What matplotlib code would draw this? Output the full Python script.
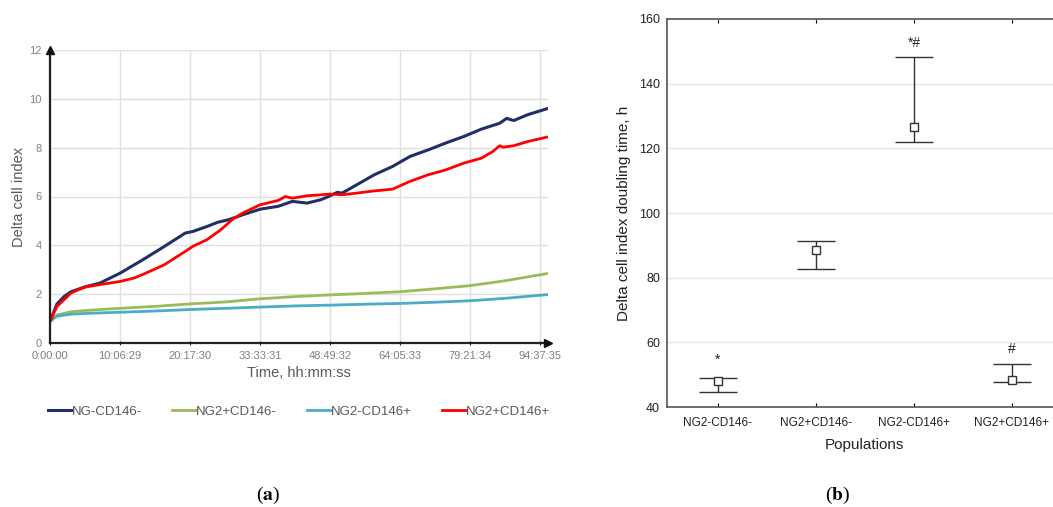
import numpy as np
import matplotlib.pyplot as plt

plt.rcParams['font.family'] = ['Liberation Sans', 'DejaVu Sans']
plt.rcParams['mathtext.fontset'] = 'stix'

#%% DATA (a): delta cell index, x in tick positions
time_labels = ['0:00:00', '10:06:29', '20:17:30', '33:33:31', '48:49:32',
               '64:05:33', '79:21:34', '94:37:35']

x_navy = [0, 0.1, 0.2, 0.3, 0.5, 0.71, 1.0, 1.32, 1.63, 1.93, 2.04, 2.24, 2.39,
          2.55, 2.75, 3.0, 3.26, 3.46, 3.67, 3.87, 4.0, 4.1, 4.17, 4.38, 4.63,
          4.89, 5.14, 5.4, 5.65, 5.91, 6.16, 6.42, 6.52, 6.62, 6.82, 7.09]
y_navy = [0.89, 1.6, 1.9, 2.1, 2.3, 2.45, 2.86, 3.4, 3.95, 4.5, 4.57, 4.77, 4.94,
          5.05, 5.25, 5.48, 5.6, 5.8, 5.73, 5.87, 6.03, 6.17, 6.14, 6.48, 6.89,
          7.23, 7.64, 7.91, 8.19, 8.46, 8.76, 9.0, 9.2, 9.11, 9.35, 9.59]

x_red = [0, 0.1, 0.2, 0.3, 0.5, 0.71, 1.0, 1.2, 1.32, 1.63, 1.93, 2.04, 2.24,
         2.44, 2.6, 2.75, 3.0, 3.26, 3.36, 3.46, 3.67, 3.87, 4.0, 4.17, 4.38,
         4.63, 4.89, 5.14, 5.4, 5.65, 5.91, 6.16, 6.32, 6.42, 6.47, 6.62, 6.82, 7.09]
y_red = [0.89, 1.5, 1.77, 2.05, 2.29, 2.39, 2.52, 2.66, 2.8, 3.2, 3.75, 3.96, 4.23,
         4.64, 5.05, 5.32, 5.66, 5.84, 6.0, 5.93, 6.03, 6.07, 6.1, 6.07, 6.14,
         6.23, 6.3, 6.62, 6.89, 7.09, 7.37, 7.57, 7.84, 8.08, 8.02, 8.08, 8.25, 8.43]

x_slow = [0, 0.1, 0.3, 0.5, 1.0, 1.5, 2.0, 2.5, 3.0, 3.5, 4.0, 4.5, 5.0, 5.5,
          6.0, 6.5, 7.09]
y_green = [0.89, 1.15, 1.28, 1.33, 1.42, 1.5, 1.6, 1.68, 1.81, 1.9, 1.97, 2.03,
           2.1, 2.22, 2.35, 2.55, 2.84]
y_cyan = [0.89, 1.1, 1.18, 1.21, 1.26, 1.31, 1.37, 1.42, 1.47, 1.52, 1.55, 1.59,
          1.62, 1.67, 1.73, 1.83, 1.98]

#%% DATA (b): doubling time
populations = ['NG2-CD146-', 'NG2+CD146-', 'NG2-CD146+', 'NG2+CD146+']
mean_dt = [48.0, 88.5, 126.7, 48.4]
upper_dt = [48.9, 91.4, 148.2, 53.2]
lower_dt = [44.7, 82.6, 121.9, 47.6]
marks = ['*', '', '*#', '#']
mark_y = [53.4, 0, 151.3, 56.7]

#%% FIGURE
fig = plt.figure(figsize=(10.53, 5.07), dpi=100)

# panel (a)
ax1 = fig.add_axes([50/1053, 164/507, 498/1053, 293/507])
ax1.plot(x_slow, y_green, color='#9bbb59', lw=2, label='NG2+CD146-')
ax1.plot(x_slow, y_cyan, color='#4bacc6', lw=2, label='NG2-CD146+')
ax1.plot(x_navy, y_navy, color='#1f3068', lw=2.2, label='NG-CD146-')
ax1.plot(x_red, y_red, color='#ff0000', lw=2, label='NG2+CD146+')
ax1.set_xlim(0, 7.11)
ax1.set_ylim(0, 12)
ax1.set_xticks(range(len(time_labels)))
ax1.set_xticklabels(time_labels)
ax1.set_yticks(range(0, 13, 2))
ax1.grid(True, color='#e0e0e0', lw=1)
ax1.set_axisbelow(True)
for s in ['top', 'right']:
    ax1.spines[s].set_visible(False)
for s in ['left', 'bottom']:
    ax1.spines[s].set_color('#222222')
    ax1.spines[s].set_linewidth(1.6)
    ax1.spines[s].set_zorder(5)
ax1.tick_params(axis='x', length=3, direction='inout', colors='#222222',
                labelcolor='#808080', labelsize=8, pad=4)
ax1.tick_params(axis='y', length=0, labelcolor='#808080', labelsize=8, pad=6)
ax1.plot(0, 1, '^', color='#111111', ms=6, transform=ax1.transAxes, clip_on=False, zorder=6)
ax1.plot(1, 0, '>', color='#111111', ms=6, transform=ax1.transAxes, clip_on=False, zorder=6)
ax1.set_xlabel('Time, hh:mm:ss', color='#595959', fontsize=10.5, labelpad=4)
ax1.set_ylabel('Delta cell index', color='#595959', fontsize=10.5, labelpad=2)
h, l = ax1.get_legend_handles_labels()
order = [2, 0, 1, 3]
ax1.legend([h[i] for i in order], [l[i] for i in order], loc='center',
           bbox_to_anchor=(0.5, -0.235), ncol=4, frameon=False, fontsize=9.5,
           labelcolor='#595959', handlelength=1.8, handletextpad=0.0,
           columnspacing=2.3)

# panel (b)
ax2 = fig.add_axes([667/1053, 100/507, 394/1053, 388/507])
xs = np.arange(1, len(populations) + 1)
err = [np.array(mean_dt) - np.array(lower_dt), np.array(upper_dt) - np.array(mean_dt)]
ax2.errorbar(xs, mean_dt, yerr=err, fmt='s', color='#333333', mfc='white',
             mec='#333333', ms=6, mew=1, ecolor='#333333', elinewidth=1,
             capsize=14, capthick=1)
for x, yv, m in zip(xs, mark_y, marks):
    if m:
        ax2.text(x, yv, m, ha='center', va='baseline', fontsize=10, color='#222222')
ax2.set_xlim(0.48, 4.5)
ax2.set_ylim(40, 160)
ax2.set_xticks(xs)
ax2.set_xticklabels(populations)
ax2.set_yticks(range(40, 161, 20))
ax2.grid(True, axis='y', color='#e6e6e6', lw=1)
ax2.set_axisbelow(True)
for s in ax2.spines.values():
    s.set_color('#555555')
    s.set_linewidth(1.2)
ax2.tick_params(axis='x', direction='in', length=3, top=True, labelsize=8.5,
                labelcolor='#222222', pad=7)
ax2.tick_params(axis='y', length=0, labelsize=9, labelcolor='#222222', pad=5)
ax2.set_xlabel('Populations', fontsize=11, color='#222222', labelpad=7)
ax2.set_ylabel('Delta cell index doubling time, h', fontsize=11, color='#222222',
               labelpad=6)

# panel letters
fig.text(268/1053, 1 - 495/507, r'($\mathbf{a}$)', ha='center', va='center',
         fontsize=14, family='Liberation Serif')
fig.text(838/1053, 1 - 495/507, r'($\mathbf{b}$)', ha='center', va='center',
         fontsize=14, family='Liberation Serif')

fig.savefig('out.png', dpi=100)
